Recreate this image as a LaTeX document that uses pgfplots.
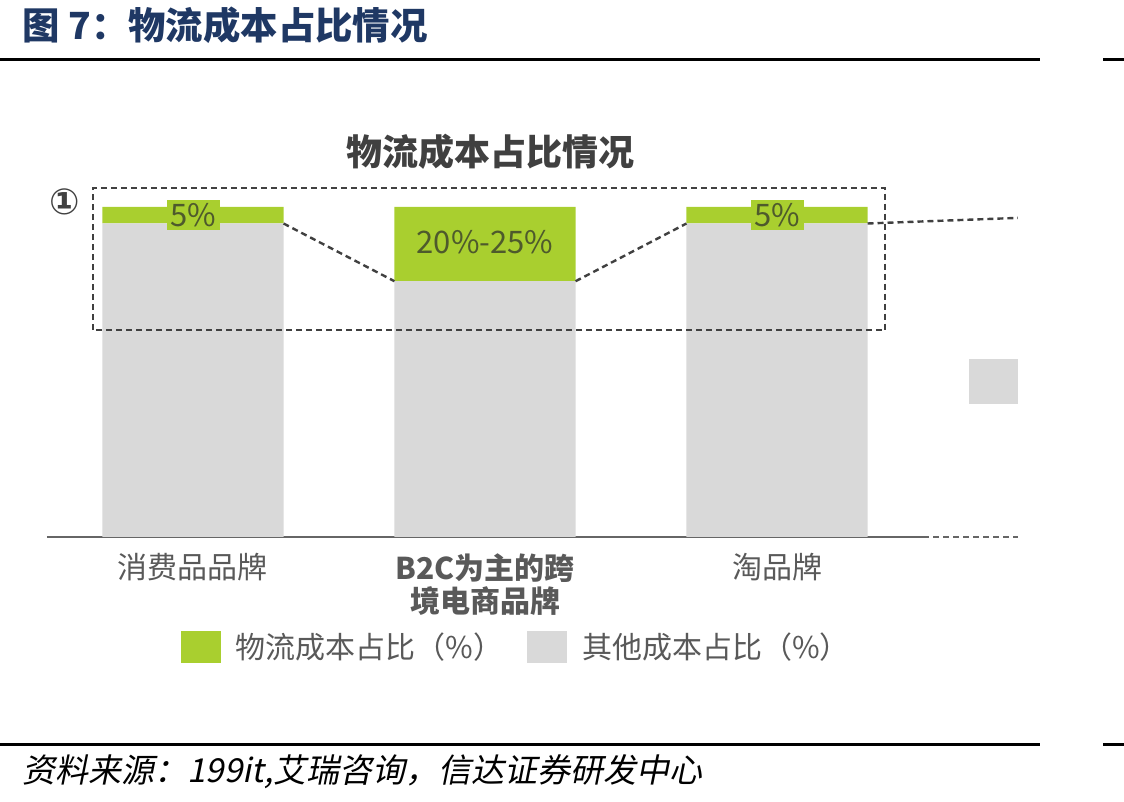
\documentclass[border=0pt]{standalone}
\usepackage{pgfplots}
\pgfplotsset{compat=1.18}
\usepackage{fontspec}
\setmainfont{Noto Sans CJK SC}
\newfontfamily\srcfont[FakeSlant=0.2]{Noto Sans CJK SC}
\newfontfamily\symfont{DejaVu Sans}
\definecolor{lgreen}{HTML}{A9CF2F}
\definecolor{lgray}{HTML}{D9D9D9}
\definecolor{hblue}{HTML}{1F3864}
\definecolor{dgray}{HTML}{404040}
\definecolor{tgray}{HTML}{595959}
\definecolor{lbl}{HTML}{4E5A2C}
\begin{document}
\begin{tikzpicture}[x=0.5pt,y=0.5pt]
\useasboundingbox (0,0) rectangle (1124,802);
\node[anchor=west, inner sep=0, text=hblue, font=\bfseries\fontsize{18.7pt}{22pt}\selectfont] at (22,777) {图 7：物流成本占比情况};
\draw[line width=1.5pt] (0,742) -- (1040,742);
\draw[line width=1.5pt] (1103,742) -- (1124,742);
\draw[line width=1.5pt] (0,57) -- (1040,57);
\draw[line width=1.5pt] (1103,57) -- (1124,57);
\node[anchor=west, inner sep=0, font=\srcfont\fontsize{16.5pt}{19pt}\selectfont] at (22,30) {资料来源：199it,艾瑞咨询，信达证券研发中心};
\node[inner sep=0, text=dgray, font=\bfseries\fontsize{18pt}{21pt}\selectfont] at (490,650) {物流成本占比情况};
\node[inner sep=0, text=dgray, font=\symfont\bfseries\fontsize{18pt}{20pt}\selectfont] at (65,600) {①};
\begin{axis}[
  at={(23.5pt,132.5pt)}, anchor=south west,
  scale only axis, width=438pt, height=165pt,
  xmin=-0.5, xmax=2.5, ymin=0, ymax=100,
  ybar stacked, bar width=0.62,
  axis x line=bottom, axis y line=none,
  axis line style={-, draw=gray!80!black, line width=1pt},
  xtick=data, ytick=\empty,
  xticklabels={消费品品牌, {\textbf{B2C为主的跨}\\\textbf{境电商品牌}}, 淘品牌},
  xticklabel style={align=center, text=tgray, font=\fontsize{15pt}{16.5pt}\selectfont, inner sep=0pt, yshift=-8pt},
  major tick length=0pt,
  clip=false,
  legend style={at={(axis description cs:0.152,-0.333)}, anchor=west, draw=none, fill=none, inner sep=0pt,
    font=\fontsize{15pt}{18pt}\selectfont, text=tgray, legend columns=2,
    nodes={inner sep=0pt, inner xsep=7.5pt},
    /tikz/every even column/.append style={column sep=4.5pt}},
  legend image code/.code={\fill[#1] (0pt,-8pt) rectangle (20pt,8pt);},
]
\addplot[fill=lgray, draw=none, forget plot] coordinates {(0,95) (1,77.5) (2,95)};
\addplot[fill=lgreen, draw=none] coordinates {(0,5) (1,22.5) (2,5)};
\addlegendentry{物流成本占比（\%）}
\addlegendimage{fill=lgray, draw=none}
\addlegendentry{其他成本占比（\%）}
\coordinate (L1) at (axis cs:0,97.5);
\coordinate (L2) at (axis cs:1,89.4);
\coordinate (L3) at (axis cs:2,97.5);
\coordinate (C1) at (axis cs:0.31,95);
\coordinate (C2) at (axis cs:0.69,77.5);
\coordinate (C3) at (axis cs:1.31,77.5);
\coordinate (C4) at (axis cs:1.69,95);
\coordinate (C5) at (axis cs:2.31,95);
\coordinate (C6) at (axis cs:2.825,96.7);
\coordinate (B1) at (axis cs:-0.3425,62.7);
\coordinate (B2) at (axis cs:2.37,105.8);
\coordinate (S1) at (axis cs:2.658,40.3);
\coordinate (S2) at (axis cs:2.825,53.9);
\coordinate (E1) at (axis cs:2.5,0);
\coordinate (E2) at (axis cs:2.825,0);
\end{axis}
\node[fill=lgreen, inner sep=0, minimum width=26.5pt, minimum height=15pt, text=lbl, font=\fontsize{15.5pt}{18pt}\selectfont] at (L1) {5\%};
\node[fill=lgreen, inner sep=0, minimum width=26.5pt, minimum height=15pt, text=lbl, font=\fontsize{15.5pt}{18pt}\selectfont] at (L3) {5\%};
\node[inner sep=0, text=lbl, font=\fontsize{15.5pt}{18pt}\selectfont] at (L2) {20\%-25\%};
\draw[dgray, line width=1.2pt, dash pattern=on 3pt off 2pt] (C1) -- (C2);
\draw[dgray, line width=1.2pt, dash pattern=on 3pt off 2pt] (C3) -- (C4);
\draw[dgray, line width=1.2pt, dash pattern=on 3pt off 2pt] (C5) -- (C6);
\draw[dgray, line width=1.2pt, dash pattern=on 3pt off 2pt] (B1) rectangle (B2);
\fill[lgray] (S1) rectangle (S2);
\draw[gray!80!black, line width=1pt, dash pattern=on 3pt off 2pt] (E1) -- (E2);
\end{tikzpicture}
\end{document}
